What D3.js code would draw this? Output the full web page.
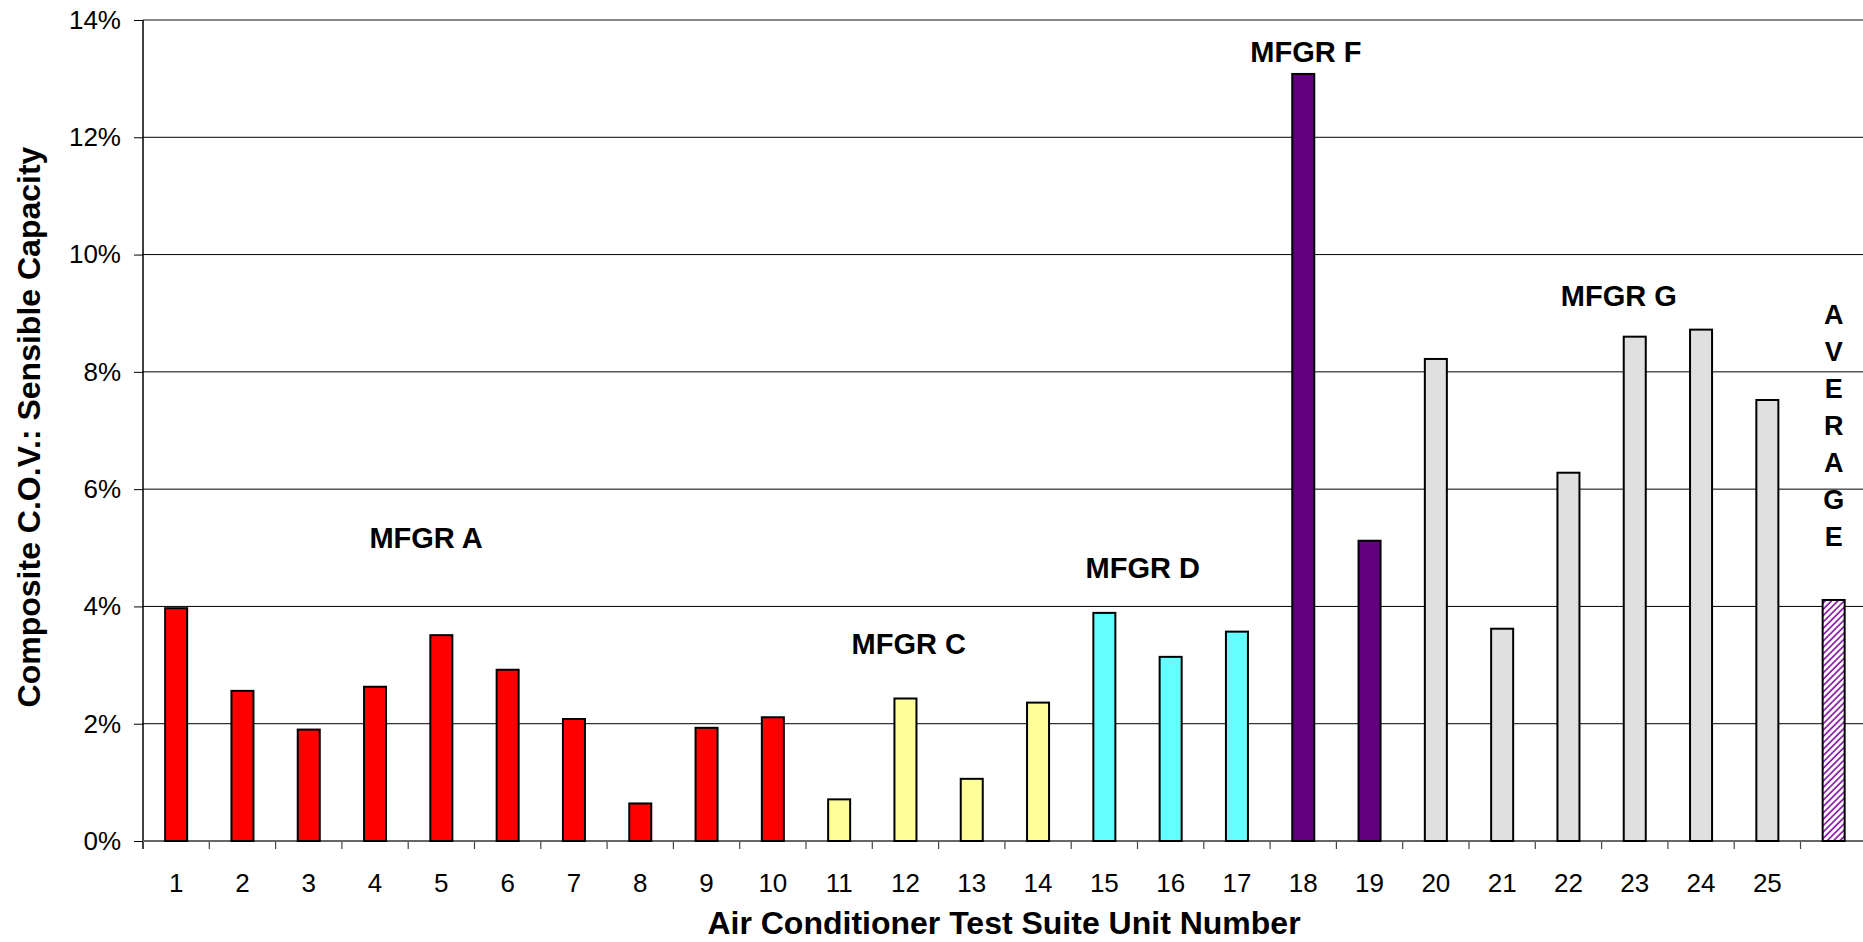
<!DOCTYPE html>
<meta charset="utf-8">
<html>
  <style>
    body, html{ margin: 0; background: #fff; }
    svg{ display: block; font-family: "Liberation Sans", Arial, sans-serif; }
    .bar{ stroke: #000; stroke-width: 2; }
    .grid line{ stroke: #000; stroke-width: 1; }
    .axis text{ font-size: 26px; fill: #000; }
    .axis .domain{ display: none; }
    .mfgr{ font-size: 29px; font-weight: bold; text-anchor: middle; }
    .title{ font-size: 32px; font-weight: bold; text-anchor: middle; }
  </style>
  <body>
    <svg></svg>
    <script src="https://cdn.jsdelivr.net/npm/d3@7"></script>
    <script>
// unit numbers, the last column is the average
var units = ['1','2','3','4','5','6','7','8','9','10','11','12','13','14','15','16','17','18','19','20','21','22','23','24','25','AVG']
var cov = [3.97, 2.56, 1.90, 2.63, 3.51, 2.92, 2.08, 0.64, 1.93, 2.11, 0.71, 2.43, 1.06, 2.36, 3.89, 3.14, 3.57, 13.08, 5.12, 8.22, 3.62, 6.28, 8.60, 8.72, 7.52, 4.11]
var maker = ['A','A','A','A','A','A','A','A','A','A','C','C','C','C','D','D','D','F','F','G','G','G','G','G','G','AVG']
var yTicks = [0, 2, 4, 6, 8, 10, 12, 14]
// group labels: text, column index (fractional), value where the baseline sits
var groupLabels = [
  ['MFGR A', 4.27, 5.0],
  ['MFGR C', 11.55, 3.19],
  ['MFGR D', 15.08, 4.49],
  ['MFGR F', 17.54, 13.28],
  ['MFGR G', 22.26, 9.12]
]
var avgLetters = ['A','V','E','R','A','G','E']

var colors = { A: '#ff0000', C: '#ffff99', D: '#66ffff', F: '#600080', G: '#e0e0e0', AVG: 'url(#hatch)' }

var W = 1863, H = 942
  , mLeft = 143, mTop = 20, mBottom = 841
  , step = 66.3
  , svg = d3.select('svg').attr('width', W).attr('height', H)

var x = d3.scaleBand().domain(units)
    .range([mLeft, mLeft + step * units.length])
    .paddingInner(0.668).paddingOuter(0.334)
  , xi = d3.scaleLinear().domain([0, units.length]).range([mLeft, mLeft + step * units.length])
  , y = d3.scaleLinear().domain([0, 14]).range([mBottom, mTop])

// hatch for the average bar
var pat = svg.append('defs').append('pattern')
    .attr('id', 'hatch').attr('patternUnits', 'userSpaceOnUse')
    .attr('width', 4.5).attr('height', 4.5)
    .attr('patternTransform', 'rotate(45)')
pat.append('rect').attr('width', 4.5).attr('height', 4.5).attr('fill', '#fff')
pat.append('line').attr('x1', 1).attr('y1', 0).attr('x2', 1).attr('y2', 4.5)
    .attr('stroke', '#8010a0').attr('stroke-width', 1.6)

// gridlines
svg.append('g').attr('class', 'grid').selectAll('line')
    .data(yTicks.filter(function(d){ return d > 0 && d < 14 }))
  .enter().append('line')
    .attr('x1', mLeft).attr('x2', W)
    .attr('y1', function(d){ return y(d) }).attr('y2', function(d){ return y(d) })
svg.append('line').attr('x1', mLeft).attr('x2', W).attr('y1', y(14)).attr('y2', y(14))
    .attr('stroke', '#888').attr('stroke-width', 2)

// y axis
var yAxis = svg.append('g').attr('class', 'axis')
    .attr('transform', 'translate(' + mLeft + ',0)')
    .call(d3.axisLeft(y).tickValues(yTicks).tickSize(9).tickPadding(13)
      .tickFormat(function(d){ return d + '%' }))
yAxis.selectAll('.tick line').attr('stroke', '#000')
svg.append('line').attr('x1', mLeft).attr('x2', mLeft).attr('y1', mTop).attr('y2', mBottom + 8)
    .attr('stroke', '#000').attr('stroke-width', 1.5)

// x axis labels
svg.append('g').attr('class', 'axis')
    .attr('transform', 'translate(0,' + mBottom + ')')
    .call(d3.axisBottom(x).tickSize(0).tickPadding(33)
      .tickFormat(function(d){ return d === 'AVG' ? '' : d }))
// boundary ticks between columns
svg.append('g').selectAll('line').data(d3.range(units.length))
  .enter().append('line')
    .attr('x1', function(d){ return xi(d) }).attr('x2', function(d){ return xi(d) })
    .attr('y1', mBottom).attr('y2', mBottom + 8)
    .attr('stroke', '#444').attr('stroke-width', 1.2)
svg.append('line').attr('x1', mLeft).attr('x2', W).attr('y1', mBottom).attr('y2', mBottom)
    .attr('stroke', '#666').attr('stroke-width', 2)

// bars
svg.append('g').selectAll('rect').data(units)
  .enter().append('rect')
    .attr('class', 'bar')
    .attr('x', function(d){ return x(d) })
    .attr('width', x.bandwidth())
    .attr('y', function(d, i){ return y(cov[i]) })
    .attr('height', function(d, i){ return y(0) - y(cov[i]) })
    .attr('fill', function(d, i){ return colors[maker[i]] })

// manufacturer labels
svg.append('g').selectAll('text').data(groupLabels)
  .enter().append('text').attr('class', 'mfgr')
    .attr('x', function(d){ return xi(d[1]) })
    .attr('y', function(d){ return y(d[2]) })
    .text(function(d){ return d[0] })

// vertical AVERAGE
var avgX = x('AVG') + x.bandwidth() / 2
svg.append('g').selectAll('text').data(avgLetters)
  .enter().append('text').attr('class', 'mfgr')
    .style('font-size', '27px')
    .attr('x', avgX)
    .attr('y', function(d, i){ return 324 + i * 37 })
    .text(function(d){ return d })

// axis titles
svg.append('text').attr('class', 'title')
    .attr('x', 1004).attr('y', 934)
    .text('Air Conditioner Test Suite Unit Number')
svg.append('text').attr('class', 'title')
    .attr('transform', 'translate(40,427) rotate(-90)')
    .text('Composite C.O.V.: Sensible Capacity')
    </script>
  </body>
</html>
